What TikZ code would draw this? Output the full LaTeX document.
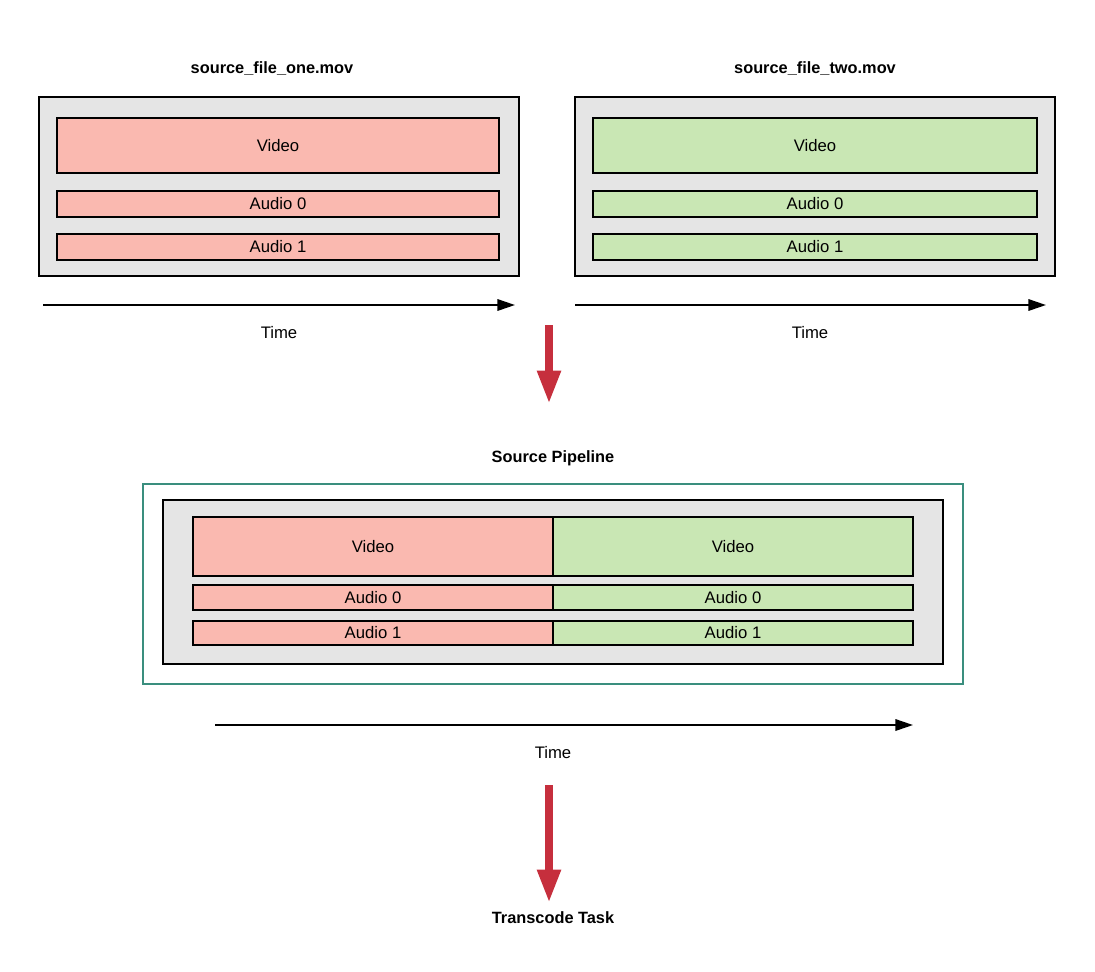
\documentclass[tikz,border=0pt]{standalone}
\usepackage{fontspec}
\setmainfont{Liberation Sans}
\usetikzlibrary{arrows.meta,calc}
\definecolor{pinkfill}{RGB}{250,185,176}
\definecolor{greenfill}{RGB}{201,231,180}
\definecolor{boxgray}{RGB}{229,229,229}
\definecolor{pipeteal}{RGB}{58,142,126}
\definecolor{flowred}{RGB}{198,47,61}

\begin{document}
\begin{tikzpicture}[x=0.02cm,y=-0.02cm,font=\fontsize{9.5}{11}\selectfont]
\path [use as bounding box] (0,0) rectangle (1095,971);
\tikzstyle{container} = [draw, fill=boxgray, line width=1.1pt, inner sep=0pt]
\tikzstyle{track} = [draw, line width=1.1pt, inner sep=0pt]
\tikzstyle{title} = [font=\fontsize{9.3}{11}\selectfont\bfseries]
\tikzstyle{timeline} = [line width=1.1pt, -{Triangle[length=10pt,width=6.5pt]}]
\tikzstyle{flow} = [flowred, line width=4.6pt, -{Triangle[length=19pt,width=12.5pt]}]
\node[title] (t1) at (272,69) {source\_file\_one.mov};
\node[title] (t2) at (815,69) {source\_file\_two.mov};
\node[container, minimum width=9.6cm, minimum height=3.58cm] (c1) at (279,186.5) {};
\node[container, minimum width=9.6cm, minimum height=3.58cm] (c2) at (815,186.5) {};
\node[track, fill=pinkfill, minimum width=8.84cm, minimum height=1.1cm] (v1) at (278,145.5) {Video};
\node[track, fill=pinkfill, minimum width=8.84cm, minimum height=0.52cm] (a01) at (278,204) {Audio 0};
\node[track, fill=pinkfill, minimum width=8.84cm, minimum height=0.52cm] (a11) at (278,247) {Audio 1};
\node[track, fill=greenfill, minimum width=8.88cm, minimum height=1.1cm] (v2) at (815,145.5) {Video};
\node[track, fill=greenfill, minimum width=8.88cm, minimum height=0.52cm] (a02) at (815,204) {Audio 0};
\node[track, fill=greenfill, minimum width=8.88cm, minimum height=0.52cm] (a12) at (815,247) {Audio 1};
\coordinate (s1) at (43,305);
\coordinate (e1) at (515,305);
\coordinate (s2) at (575,305);
\coordinate (e2) at (1046,305);
\draw[timeline] (s1) -- (e1);
\draw[timeline] (s2) -- (e2);
\node (time1) at (279,333) {Time};
\node (time2) at (810,333) {Time};
\coordinate (f1a) at (549,325);
\coordinate (f1b) at (549,404);
\draw[flow] (f1a) -- (f1b);
\node[title] (sp) at (553,458) {Source Pipeline};
\node[draw=pipeteal, line width=0.9pt, minimum width=16.4cm, minimum height=4cm] (pipe) at (553,584) {};
\node[container, minimum width=15.6cm, minimum height=3.28cm] (c3) at (553,582) {};
\node[track, fill=pinkfill, minimum width=7.2cm, minimum height=1.18cm] (v3) at (373,546.5) {Video};
\node[track, fill=greenfill, minimum width=7.2cm, minimum height=1.18cm] (v4) at (733,546.5) {Video};
\node[track, fill=pinkfill, minimum width=7.2cm, minimum height=0.5cm] (a03) at (373,597.5) {Audio 0};
\node[track, fill=greenfill, minimum width=7.2cm, minimum height=0.5cm] (a04) at (733,597.5) {Audio 0};
\node[track, fill=pinkfill, minimum width=7.2cm, minimum height=0.48cm] (a13) at (373,633) {Audio 1};
\node[track, fill=greenfill, minimum width=7.2cm, minimum height=0.48cm] (a14) at (733,633) {Audio 1};
\coordinate (s3) at (215,725);
\coordinate (e3) at (913,725);
\draw[timeline] (s3) -- (e3);
\node (time3) at (553,753) {Time};
\node[title] (tt) at (553,918) {Transcode Task};
\coordinate (f2a) at (549,785);
\coordinate (f2b) at (549,903);
\draw[flow] (f2a) -- (f2b);
\end{tikzpicture}
\end{document}
